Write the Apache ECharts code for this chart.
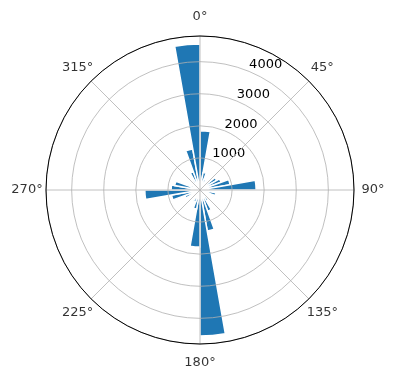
<!DOCTYPE html>
<html><head><meta charset="utf-8">
<script src="https://cdn.jsdelivr.net/npm/echarts@6/dist/echarts.min.js"></script>
<style>html,body{margin:0;padding:0;background:#fff}#c{width:396px;height:380px}</style>
</head><body><div id="c"></div>
<script>
// direction bins (degrees, clockwise from north)
const binStart = [0,10,20,30,40,50,60,70,80,90,100,110,120,130,140,150,160,170,180,190,200,210,220,230,240,250,260,270,280,290,300,310,320,330,340,350];
const binEnd   = [10,20,30,40,50,60,70,80,90,100,110,120,130,140,150,160,170,180,190,200,210,220,230,240,250,260,270,280,290,300,310,320,330,340,350,360];
// counts per bin
const counts = [1850,550,350,200,250,600,700,950,1750,250,500,250,200,250,400,700,1300,4550,1780,600,400,250,200,300,500,900,1720,900,800,300,200,250,350,600,1300,4550];
const angleTicks = [0,45,90,135,180,225,270,315];
const radiusTicks = [1000,2000,3000,4000];
const RMAX = 4800;

const chart = echarts.init(document.getElementById('c'), null, {renderer:'canvas'});
const data = counts.map((v,i)=>[v, binStart[i], binEnd[i]]);
const FONT = 'DejaVu Sans';
chart.setOption({
  animation:false,
  polar:[
    {center:[200,190], radius:154},
    {center:[200,190], radius:154},
    {center:[200,190], radius:173}
  ],
  angleAxis:[{
    polarIndex:0, type:'value', min:0, max:360, interval:45, startAngle:90, clockwise:true, z:10,
    axisLine:{lineStyle:{color:'#000', width:1}},
    axisTick:{show:false},
    axisLabel:{show:false},
    splitLine:{lineStyle:{color:'#b0b0b0', width:0.8}}
  },{
    polarIndex:1, type:'value', min:0, max:360, startAngle:67.5, clockwise:true, show:false
  },{
    polarIndex:2, type:'value', min:0, max:360, startAngle:90, clockwise:true, show:false
  }],
  radiusAxis:[{
    polarIndex:0, type:'value', min:0, max:RMAX, interval:1000, z:9,
    axisLine:{show:false}, axisTick:{show:false}, axisLabel:{show:false},
    splitLine:{lineStyle:{color:'#b0b0b0', width:0.8}}
  },{
    polarIndex:1, type:'value', min:0, max:RMAX, interval:1000, z:9,
    axisLine:{show:false}, axisTick:{show:false}, splitLine:{show:false},
    axisLabel:{formatter:v=> radiusTicks.indexOf(v)>=0 ? String(v) : '', color:'#000', fontSize:13, fontFamily:FONT,
      margin:0, align:'left', verticalAlign:'bottom'}
  },{
    polarIndex:2, type:'value', min:0, max:1, show:false
  }],
  series:[{
    type:'custom', coordinateSystem:'polar', polarIndex:0, z:2,
    data:data,
    encode:{radius:0, angle:[1,2]},
    renderItem:function(params, api){
      const cs = params.coordSys;
      const cx = cs.cx, cy = cs.cy;
      const v = api.value(0), a0 = api.value(1), a1 = api.value(2);
      const p0 = api.coord([v, a0]);
      const p1 = api.coord([v, a1]);
      const r = Math.hypot(p0[0]-cx, p0[1]-cy);
      let s = Math.atan2(p0[1]-cy, p0[0]-cx);
      let e = Math.atan2(p1[1]-cy, p1[0]-cx);
      if (e <= s) e += 2*Math.PI;
      return {type:'sector', shape:{cx:cx, cy:cy, r0:0, r:r, startAngle:s, endAngle:e, clockwise:true},
        style:{fill:'#1f77b4', stroke:'#ffffff', lineWidth:1.5}};
    }
  },{
    type:'scatter', coordinateSystem:'polar', polarIndex:2, z:10, silent:true, clip:false,
    symbol:'circle', symbolSize:1,
    itemStyle:{color:'rgba(0,0,0,0)'},
    data: angleTicks.map(a=>[1, a]),
    label:{show:true, position:'inside', formatter:p=> p.value[1]+'°', color:'#000', fontSize:13, fontFamily:FONT}
  }]
});
</script></body></html>
